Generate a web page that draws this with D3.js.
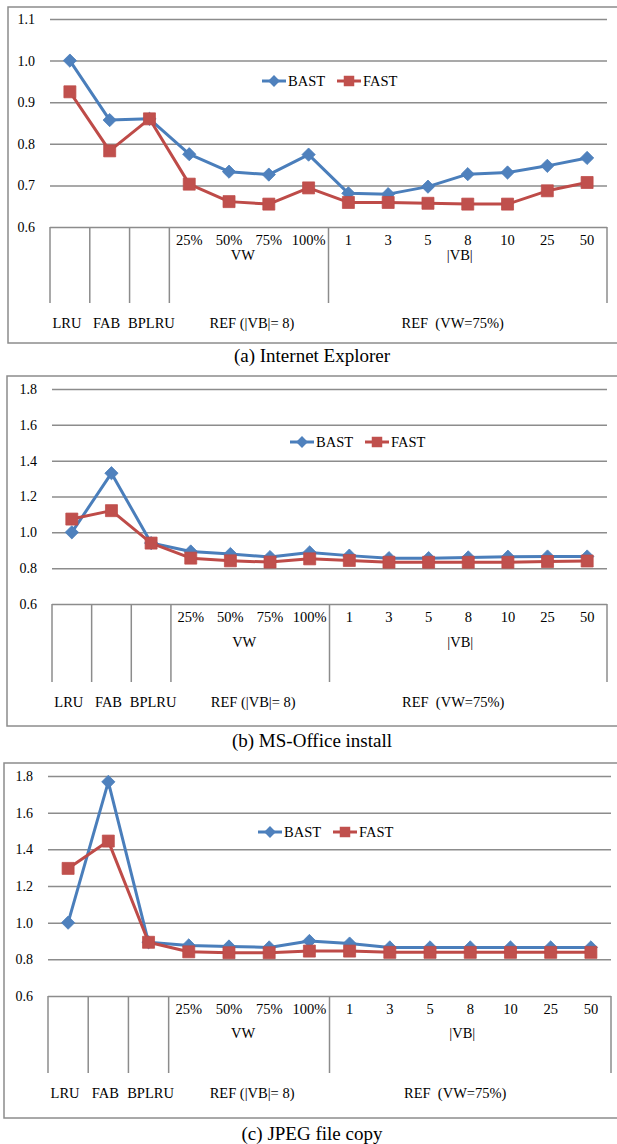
<!DOCTYPE html>
<html lang="en">
<head>
  <meta charset="UTF-8">
  <title></title>
  <style>
    html, body {
      margin: 0;
      overflow: hidden;
      width: 100%;
      height: 100%;
      background: #fff;
    }
    svg {
      position: absolute;
      top: 0;
      left: 0;
      background: #fff;
    }
    text {
      font-family: "Liberation Serif", "Times New Roman", serif;
      fill: #000;
      white-space: pre;
    }
  </style>
</head>
<body>
  <svg width="617" height="1144"></svg>
</body>
<script src="https://d3js.org/d3.v7.min.js"></script>
<script type="text/javascript">
  // categories along the x axis (first level)
  const subLabels = ['', '', '', '25%', '50%', '75%', '100%', '1', '3', '5', '8', '10', '25', '50']
  // grouped labels (second and third level)
  const groupSizes = [1, 1, 1, 4, 7]
  const groupSubtitles = ['', '', '', 'VW', '|VB|']
  const groupNames = ['LRU', 'FAB', 'BPLRU', 'REF (|VB|= 8)', 'REF  (VW=75%)']

  const seriesNames = ['BAST', 'FAST']

  // (a) Internet Explorer
  const ieBAST = [1.0, 0.857, 0.86, 0.775, 0.733, 0.726, 0.774, 0.681, 0.679, 0.697, 0.727, 0.731, 0.747, 0.766]
  const ieFAST = [0.925, 0.783, 0.86, 0.703, 0.661, 0.655, 0.694, 0.659, 0.659, 0.657, 0.655, 0.655, 0.687, 0.707]
  // (b) MS-Office install
  const officeBAST = [1.0, 1.33, 0.94, 0.893, 0.879, 0.862, 0.888, 0.87, 0.856, 0.856, 0.86, 0.864, 0.865, 0.865]
  const officeFAST = [1.074, 1.121, 0.94, 0.856, 0.841, 0.834, 0.852, 0.843, 0.833, 0.833, 0.833, 0.833, 0.837, 0.84]
  // (c) JPEG file copy
  const jpegBAST = [1.0, 1.768, 0.893, 0.876, 0.87, 0.865, 0.9, 0.886, 0.865, 0.865, 0.865, 0.865, 0.865, 0.865]
  const jpegFAST = [1.296, 1.445, 0.893, 0.841, 0.836, 0.836, 0.845, 0.845, 0.838, 0.838, 0.838, 0.838, 0.838, 0.838]

  const ticksIE = [0.6, 0.7, 0.8, 0.9, 1.0, 1.1]
  const ticksWide = [0.6, 0.8, 1.0, 1.2, 1.4, 1.6, 1.8]

  const captions = ['(a) Internet Explorer', '(b) MS-Office install', '(c) JPEG file copy']

  const colors = ['#4a7ebb', '#be4b48']
  const markerFill = ['#4f81bd', '#c0504d']
  const gridColor = '#8c8c8c'

  const panels = [
    { caption: captions[0], series: [ieBAST, ieFAST], ticks: ticksIE,
      box: [8, 7, 343], plot: [50, 607, 19, 227], sepBottom: 303,
      row1: 240, row2: 255, row3: 323, capY: 355, legend: [262, 81] },
    { caption: captions[1], series: [officeBAST, officeFAST], ticks: ticksWide,
      box: [7, 376, 726], plot: [52, 607, 389, 604], sepBottom: 682,
      row1: 617, row2: 642, row3: 702, capY: 740, legend: [290, 442] },
    { caption: captions[2], series: [jpegBAST, jpegFAST], ticks: ticksWide,
      box: [4, 763, 1118], plot: [48, 611, 776, 996], sepBottom: 1073,
      row1: 1009, row2: 1033, row3: 1093, capY: 1133, legend: [258, 832] }
  ]

  // small nudges to match where the group labels sit
  const shift2 = [0, 0, 0, -6, -8]
  const shift3 = [-3, -3, 2, 3, -15]

  const svg = d3.select('svg')

  // diamond = square turned 45 degrees
  const markerPath = [
    size => d3.symbol().type(d3.symbolSquare).size(size)(),
    size => d3.symbol().type(d3.symbolSquare).size(size)()
  ]
  const markerSize = [88, 144]
  const markerRotate = [45, 0]

  panels.forEach(p => {
    const [left, right, top, bottom] = p.plot
    const g = svg.append('g')

    // outer frame (open to the right edge of the page)
    g.append('rect')
      .attr('x', p.box[0])
      .attr('y', p.box[1])
      .attr('width', 640)
      .attr('height', p.box[2] - p.box[1])
      .attr('fill', 'none')
      .attr('stroke', gridColor)
      .attr('stroke-width', 1.5)

    const x = d3.scaleBand()
      .domain(d3.range(subLabels.length))
      .range([left, right])

    const y = d3.scaleLinear()
      .domain(d3.extent(p.ticks))
      .range([bottom, top])

    // gridlines + y labels
    const yAxis = g.append('g')
      .attr('transform', `translate(${left},0)`)
      .call(d3.axisLeft(y)
        .tickValues(p.ticks)
        .tickSize(-(right - left))
        .tickPadding(15)
        .tickFormat(d3.format('.1f')))
    yAxis.select('.domain').remove()
    yAxis.selectAll('line')
      .attr('stroke', gridColor)
      .attr('stroke-width', 1.5)
    yAxis.selectAll('text')
      .style('font-family', '"Liberation Serif", serif')
      .style('font-size', '14px')
      .attr('fill', '#000')

    // category axis separators
    const starts = []
    let acc = 0
    groupSizes.forEach(s => { starts.push(acc); acc += s })
    const edges = starts.map(i => x(i)).concat([x(subLabels.length - 1) + x.bandwidth()])
    g.append('g')
      .selectAll('line')
      .data(edges)
      .enter().append('line')
        .attr('x1', d => d)
        .attr('x2', d => d)
        .attr('y1', bottom)
        .attr('y2', p.sepBottom)
        .attr('stroke', gridColor)
        .attr('stroke-width', 1.5)

    // first level labels
    g.append('g')
      .selectAll('text')
      .data(subLabels)
      .enter().append('text')
        .attr('x', (d, i) => x(i) + x.bandwidth() / 2)
        .attr('y', p.row1)
        .attr('text-anchor', 'middle')
        .attr('dominant-baseline', 'central')
        .style('font-size', '14.5px')
        .text(d => d)

    const groupCenter = i => {
      const a = x(starts[i])
      const b = x(starts[i] + groupSizes[i] - 1) + x.bandwidth()
      return (a + b) / 2
    }

    g.append('g')
      .selectAll('text')
      .data(groupSubtitles)
      .enter().append('text')
        .attr('x', (d, i) => groupCenter(i) + shift2[i])
        .attr('y', p.row2)
        .attr('text-anchor', 'middle')
        .attr('dominant-baseline', 'central')
        .style('font-size', '14.5px')
        .text(d => d)

    g.append('g')
      .selectAll('text')
      .data(groupNames)
      .enter().append('text')
        .attr('x', (d, i) => groupCenter(i) + shift3[i])
        .attr('y', p.row3)
        .attr('text-anchor', 'middle')
        .attr('dominant-baseline', 'central')
        .style('font-size', '14.5px')
        .text(d => d)

    // series
    const line = d3.line()
      .x((d, i) => x(i) + x.bandwidth() / 2)
      .y(d => y(d))

    p.series.forEach((values, s) => {
      g.append('path')
        .datum(values)
        .attr('d', line)
        .attr('fill', 'none')
        .attr('stroke', colors[s])
        .attr('stroke-width', 3)
        .attr('stroke-linejoin', 'round')

      g.append('g')
        .selectAll('path')
        .data(values)
        .enter().append('path')
          .attr('d', markerPath[s](markerSize[s]))
          .attr('transform', (d, i) => `translate(${x(i) + x.bandwidth() / 2},${y(d)}) rotate(${markerRotate[s]})`)
          .attr('fill', markerFill[s])
          .attr('stroke', colors[s])
          .attr('stroke-width', 0.75)
    })

    // legend
    const leg = g.append('g')
      .attr('transform', `translate(${p.legend[0]},${p.legend[1]})`)
    seriesNames.forEach((name, s) => {
      const lx = s * 75
      leg.append('line')
        .attr('x1', lx)
        .attr('x2', lx + 24)
        .attr('stroke', colors[s])
        .attr('stroke-width', 3)
      leg.append('path')
        .attr('d', markerPath[s](s ? 110 : 70))
        .attr('transform', `translate(${lx + 12},0) rotate(${markerRotate[s]})`)
        .attr('fill', markerFill[s])
      leg.append('text')
        .attr('x', lx + 26)
        .attr('dominant-baseline', 'central')
        .style('font-size', '14.5px')
        .text(name)
    })

    // caption
    svg.append('text')
      .attr('x', 312)
      .attr('y', p.capY)
      .attr('text-anchor', 'middle')
      .attr('dominant-baseline', 'central')
      .style('font-size', '19px')
      .text(p.caption)
  })
</script>
</html>
